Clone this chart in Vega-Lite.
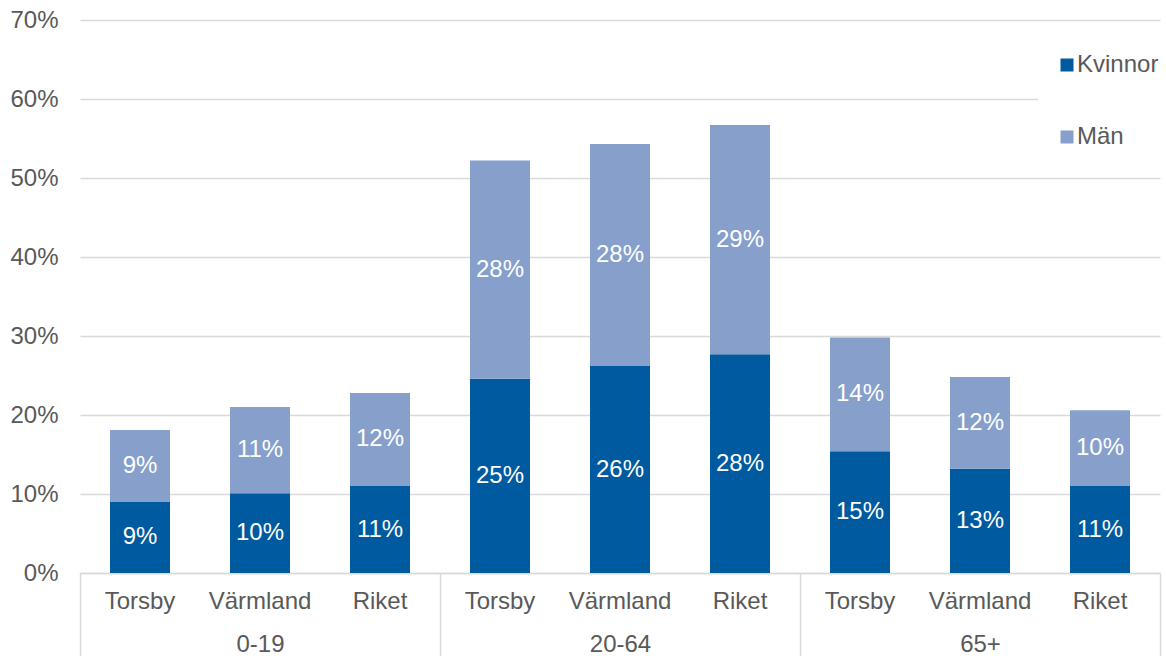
{
  "$schema": "https://vega.github.io/schema/vega-lite/v6.json",
  "width": 1080,
  "height": 553,
  "autosize": "none",
  "padding": {"left": 80, "top": 20, "right": 6, "bottom": 83},
  "config": {
    "font": "Liberation Sans",
    "view": {"stroke": null},
    "axis": {"labelFont": "Liberation Sans", "labelFontSize": 24, "labelColor": "#595959", "title": null}
  },
  "data": {
    "values": [
      {"group": "0-19", "region": "Torsby", "sex": "Kvinnor", "value": 0.090},
      {"group": "0-19", "region": "Torsby", "sex": "Män", "value": 0.091},
      {"group": "0-19", "region": "Värmland", "sex": "Kvinnor", "value": 0.101},
      {"group": "0-19", "region": "Värmland", "sex": "Män", "value": 0.109},
      {"group": "0-19", "region": "Riket", "sex": "Kvinnor", "value": 0.110},
      {"group": "0-19", "region": "Riket", "sex": "Män", "value": 0.118},
      {"group": "20-64", "region": "Torsby", "sex": "Kvinnor", "value": 0.246},
      {"group": "20-64", "region": "Torsby", "sex": "Män", "value": 0.276},
      {"group": "20-64", "region": "Värmland", "sex": "Kvinnor", "value": 0.262},
      {"group": "20-64", "region": "Värmland", "sex": "Män", "value": 0.281},
      {"group": "20-64", "region": "Riket", "sex": "Kvinnor", "value": 0.277},
      {"group": "20-64", "region": "Riket", "sex": "Män", "value": 0.290},
      {"group": "65+", "region": "Torsby", "sex": "Kvinnor", "value": 0.154},
      {"group": "65+", "region": "Torsby", "sex": "Män", "value": 0.144},
      {"group": "65+", "region": "Värmland", "sex": "Kvinnor", "value": 0.132},
      {"group": "65+", "region": "Värmland", "sex": "Män", "value": 0.116},
      {"group": "65+", "region": "Riket", "sex": "Kvinnor", "value": 0.110},
      {"group": "65+", "region": "Riket", "sex": "Män", "value": 0.096}
    ]
  },
  "transform": [{"calculate": "datum.group + '|' + datum.region", "as": "key"}],
  "layer": [
    {
      "encoding": {
        "x": {
          "field": "key", "type": "nominal", "sort": null,
          "scale": {"type": "band", "paddingInner": 0.5, "paddingOuter": 0.25},
          "axis": {
            "orient": "bottom", "labelExpr": "split(datum.label, '|')[1]", "labelAngle": 0,
            "ticks": false, "domainColor": "#d9d9d9", "domainWidth": 1.5, "labelPadding": 16, "grid": false
          }
        },
        "y": {
          "field": "value", "type": "quantitative", "stack": "zero",
          "scale": {"domain": [0, 0.7], "nice": false},
          "axis": {
            "format": ".0%", "values": [0, 0.1, 0.2, 0.3, 0.4, 0.5, 0.6, 0.7],
            "grid": true, "gridColor": "#d9d9d9", "gridWidth": 1.3, "domain": false, "ticks": false, "labelPadding": 22
          }
        },
        "order": {"field": "sex", "sort": "ascending"}
      },
      "layer": [
        {
          "mark": {"type": "bar"},
          "encoding": {
            "color": {
              "field": "sex", "type": "nominal",
              "scale": {"domain": ["Kvinnor", "Män"], "range": ["#005a9f", "#869fcb"]},
              "legend": {
                "title": null, "orient": "none", "legendX": 958, "legendY": 16,
                "symbolType": "square", "symbolSize": 169, "symbolStrokeWidth": 0,
                "labelFontSize": 24, "labelColor": "#595959", "labelFont": "Liberation Sans",
                "rowPadding": 48, "padding": 17, "fillColor": "white", "labelOffset": -2
              }
            }
          }
        },
        {
          "mark": {"type": "text", "color": "white", "fontSize": 24, "baseline": "middle"},
          "encoding": {
            "y": {"field": "value", "type": "quantitative", "stack": "zero", "bandPosition": 0.5},
            "detail": {"field": "sex"},
            "text": {"field": "value", "type": "quantitative", "format": ".0%"}
          }
        }
      ]
    },
    {
      "mark": {"type": "rule", "opacity": 0},
      "encoding": {
        "x": {
          "field": "group", "type": "nominal", "sort": null,
          "scale": {"type": "band", "paddingInner": 0, "paddingOuter": 0},
          "axis": {
            "orient": "bottom", "labelAngle": 0, "ticks": true, "tickBand": "extent",
            "tickSize": 84, "tickColor": "#d9d9d9", "tickWidth": 1.5, "domain": false,
            "labelPadding": -25, "grid": false
          }
        }
      }
    }
  ],
  "resolve": {"scale": {"x": "independent"}, "axis": {"x": "independent"}}
}
